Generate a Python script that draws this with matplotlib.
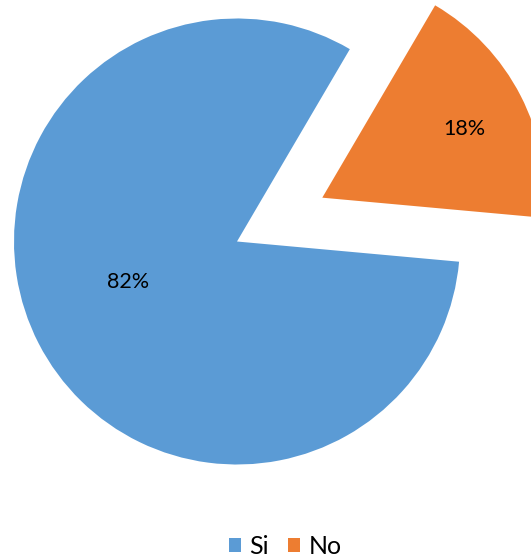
import matplotlib.pyplot as plt
import numpy as np

# Data
labels = ['Si', 'No']
values = [82, 18]
colors = ['#5B9BD5', '#ED7D31']
explode = [0, 0.43]

plt.rcParams['font.family'] = ['Lato', 'DejaVu Sans']

fig = plt.figure(figsize=(5.31, 5.58), dpi=100)
ax = fig.add_axes([0, 0, 1, 1])

wedges, texts, autotexts = ax.pie(values, colors=colors, explode=explode,
                                  startangle=59.6, counterclock=True,
                                  autopct='%1.0f%%', pctdistance=0.6,
                                  wedgeprops=dict(linewidth=0),
                                  textprops=dict(fontsize=15.5, color='black'))

# adjust label distances to match reference placement
pos_info = [(0.52, 200.6), (0.71, 25.9)]
for t, w, (d, ang) in zip(autotexts, wedges, pos_info):
    cx, cy = w.center
    t.set_position((cx + d * np.cos(np.radians(ang)), cy + d * np.sin(np.radians(ang))))

# map pie to pixel layout: center at (237, 241.5) px, radius 223 px
scale = 223.0
ax.set_aspect('auto')
ax.set_xlim(-237 / scale, (531 - 237) / scale)
ax.set_ylim(-(558 - 241.5) / scale, 241.5 / scale)
ax.axis('off')

leg = fig.legend(wedges, labels, loc='center', bbox_to_anchor=(285 / 531, 1 - 546 / 558),
                 ncol=2, frameon=False, fontsize=18, handlelength=0.5, handleheight=0.5,
                 handletextpad=0.33, columnspacing=0.75)

fig.savefig('out.png', dpi=100)
